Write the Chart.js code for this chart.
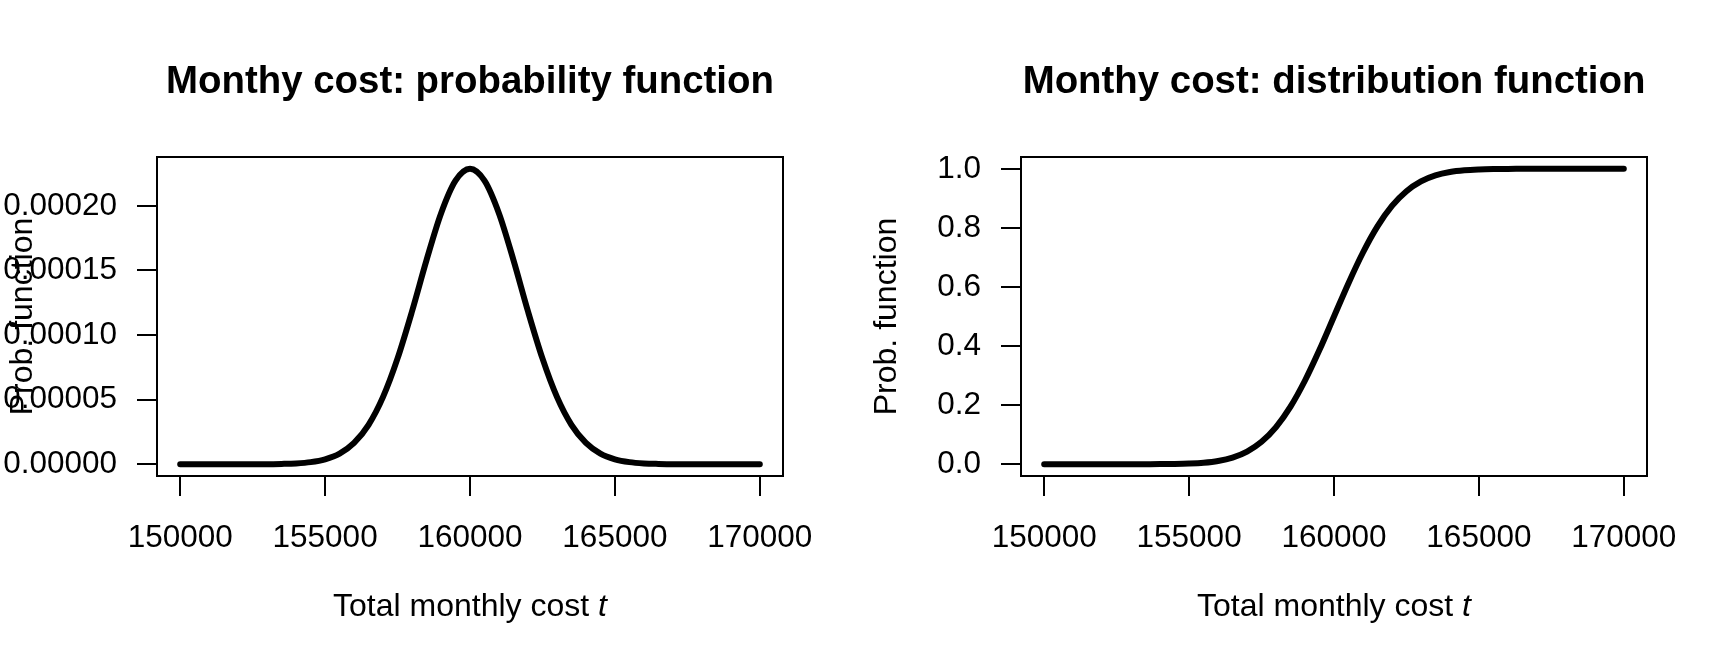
<!DOCTYPE html>
<html>
<head>
<meta charset="utf-8">
<title>Monthly cost</title>
<script src="https://cdn.jsdelivr.net/npm/chart.js@4.4.1/dist/chart.umd.min.js"></script>
<style>
  html, body { margin: 0; padding: 0; background: #fff; }
  #wrap { display: flex; width: 1728px; height: 672px; }
  canvas { display: block; }
</style>
</head>
<body>
<div id="wrap">
  <canvas id="pdfChart" width="864" height="672"></canvas>
  <canvas id="cdfChart" width="864" height="672"></canvas>
</div>
<script>
// values
const costs = [
  150000, 150500, 151000, 151500, 152000, 152500, 153000, 153500, 154000, 154500,
  155000, 155500, 156000, 156500, 157000, 157500, 158000, 158500, 159000, 159500,
  160000, 160500, 161000, 161500, 162000, 162500, 163000, 163500, 164000, 164500,
  165000, 165500, 166000, 166500, 167000, 167500, 168000, 168500, 169000, 169500,
  170000
];
const pdfValues = [
  0, 0, 0, 0, 0, 0, 0, 0.0000002, 0.0000006, 0.0000016,
  0.0000038, 0.0000082, 0.0000165, 0.0000305, 0.0000521, 0.0000819, 0.0001184, 0.000158, 0.0001941, 0.0002195,
  0.0002287, 0.0002195, 0.0001941, 0.000158, 0.0001184, 0.0000819, 0.0000521, 0.0000305, 0.0000165, 0.0000082,
  0.0000038, 0.0000016, 0.0000006, 0.0000002, 0, 0, 0, 0, 0, 0,
  0
];
const cdfValues = [
  0, 0, 0, 0, 0, 0, 0, 0.0001, 0.0003, 0.0008,
  0.0021, 0.0049, 0.0109, 0.0224, 0.0427, 0.0759, 0.1257, 0.1949, 0.2833, 0.3871,
  0.5, 0.6129, 0.7167, 0.8051, 0.8743, 0.9241, 0.9573, 0.9776, 0.9891, 0.9951,
  0.9979, 0.9992, 0.9997, 0.9999, 1, 1, 1, 1, 1, 1,
  1
];
const xTicks = [150000, 155000, 160000, 165000, 170000];
const xTickLabels = ["150000", "155000", "160000", "165000", "170000"];
const pdfTicks = [0, 0.00005, 0.0001, 0.00015, 0.0002];
const pdfTickLabels = ["0.00000", "0.00005", "0.00010", "0.00015", "0.00020"];
const cdfTicks = [0, 0.2, 0.4, 0.6, 0.8, 1];
const cdfTickLabels = ["0.0", "0.2", "0.4", "0.6", "0.8", "1.0"];
const titles = ["Monthy cost: probability function", "Monthy cost: distribution function"];
const xTitle = "Total monthly cost ";
const xTitleVar = "t";
const yTitle = "Prob. function";

const family = "'Liberation Sans', Arial, Helvetica, sans-serif";
Chart.defaults.font.family = family;
Chart.defaults.color = "#000";

// frame round the plot region, like R's box()
const boxPlugin = {
  id: "box",
  afterDatasetsDraw(chart) {
    const { ctx, chartArea } = chart;
    ctx.save();
    ctx.strokeStyle = "#000";
    ctx.lineWidth = 2;
    ctx.strokeRect(chartArea.left, chartArea.top,
      chartArea.right - chartArea.left, chartArea.bottom - chartArea.top);
    ctx.restore();
  },
};

// x axis title with an italic "t"
const xTitlePlugin = {
  id: "xTitle",
  afterDraw(chart) {
    const { ctx, chartArea } = chart;
    const normal = `32px ${family}`;
    const italic = `italic 32px ${family}`;
    ctx.save();
    ctx.font = normal;
    const w1 = ctx.measureText(xTitle).width;
    ctx.font = italic;
    const w2 = ctx.measureText(xTitleVar).width;
    const x = (chartArea.left + chartArea.right) / 2 - (w1 + w2) / 2;
    const y = chartArea.bottom + 140;
    ctx.fillStyle = "#000";
    ctx.textBaseline = "alphabetic";
    ctx.textAlign = "left";
    ctx.font = normal;
    ctx.fillText(xTitle, x, y);
    ctx.font = italic;
    ctx.fillText(xTitleVar, x + w1, y);
    ctx.restore();
  },
};

const makeChart = (id, title, values, yTicks, yLabels) => {
  const yMax = Math.max(...values);
  const xMin = Math.min(...costs);
  const xMax = Math.max(...costs);
  const xPad = (xMax - xMin) * 0.04;
  const tickGrid = { drawOnChartArea: false, color: "#000", lineWidth: 2, tickLength: 20 };

  return new Chart(document.getElementById(id), {
    type: "line",
    data: {
      datasets: [
        {
          data: costs.map((c, i) => ({ x: c, y: values[i] })),
          borderColor: "#000",
          borderWidth: 6,
          pointRadius: 0,
          cubicInterpolationMode: "monotone",
          borderCapStyle: "round",
          borderJoinStyle: "round",
          fill: false,
        },
      ],
    },
    options: {
      responsive: false,
      animation: false,
      devicePixelRatio: 1,
      layout: { padding: { left: 0, right: 81, top: 0, bottom: 0 } },
      plugins: {
        legend: { display: false },
        tooltip: { enabled: false },
        title: {
          display: true,
          fullSize: false,
          text: title,
          color: "#000",
          font: { size: 38.4, weight: "bold", lineHeight: 1.2 },
          padding: { top: 59, bottom: 51.92 },
        },
      },
      scales: {
        x: {
          type: "linear",
          min: xMin - xPad,
          max: xMax + xPad,
          afterFit: (s) => { s.height = 196; },
          afterBuildTicks: (s) => { s.ticks = xTicks.map((v) => ({ value: v })); },
          ticks: {
            color: "#000",
            font: { size: 31.5 },
            padding: 23,
            maxRotation: 0,
            autoSkip: false,
            callback: (v, i) => xTickLabels[i],
          },
          grid: tickGrid,
          border: { display: false },
        },
        y: {
          min: -0.04 * yMax,
          max: 1.04 * yMax,
          afterFit: (s) => { s.width = 157; },
          afterBuildTicks: (s) => { s.ticks = yTicks.map((v) => ({ value: v })); },
          ticks: {
            color: "#000",
            font: { size: 31.5 },
            padding: 20,
            autoSkip: false,
            callback: (v, i) => yLabels[i],
          },
          grid: tickGrid,
          border: { display: false },
          title: {
            display: true,
            text: yTitle,
            color: "#000",
            font: { size: 32, lineHeight: 1.2 },
            padding: { top: 3.8, bottom: 0 },
          },
        },
      },
    },
    plugins: [boxPlugin, xTitlePlugin],
  });
};

document.addEventListener("DOMContentLoaded", () => {
  makeChart("pdfChart", titles[0], pdfValues, pdfTicks, pdfTickLabels);
  makeChart("cdfChart", titles[1], cdfValues, cdfTicks, cdfTickLabels);
});
</script>
</body>
</html>
